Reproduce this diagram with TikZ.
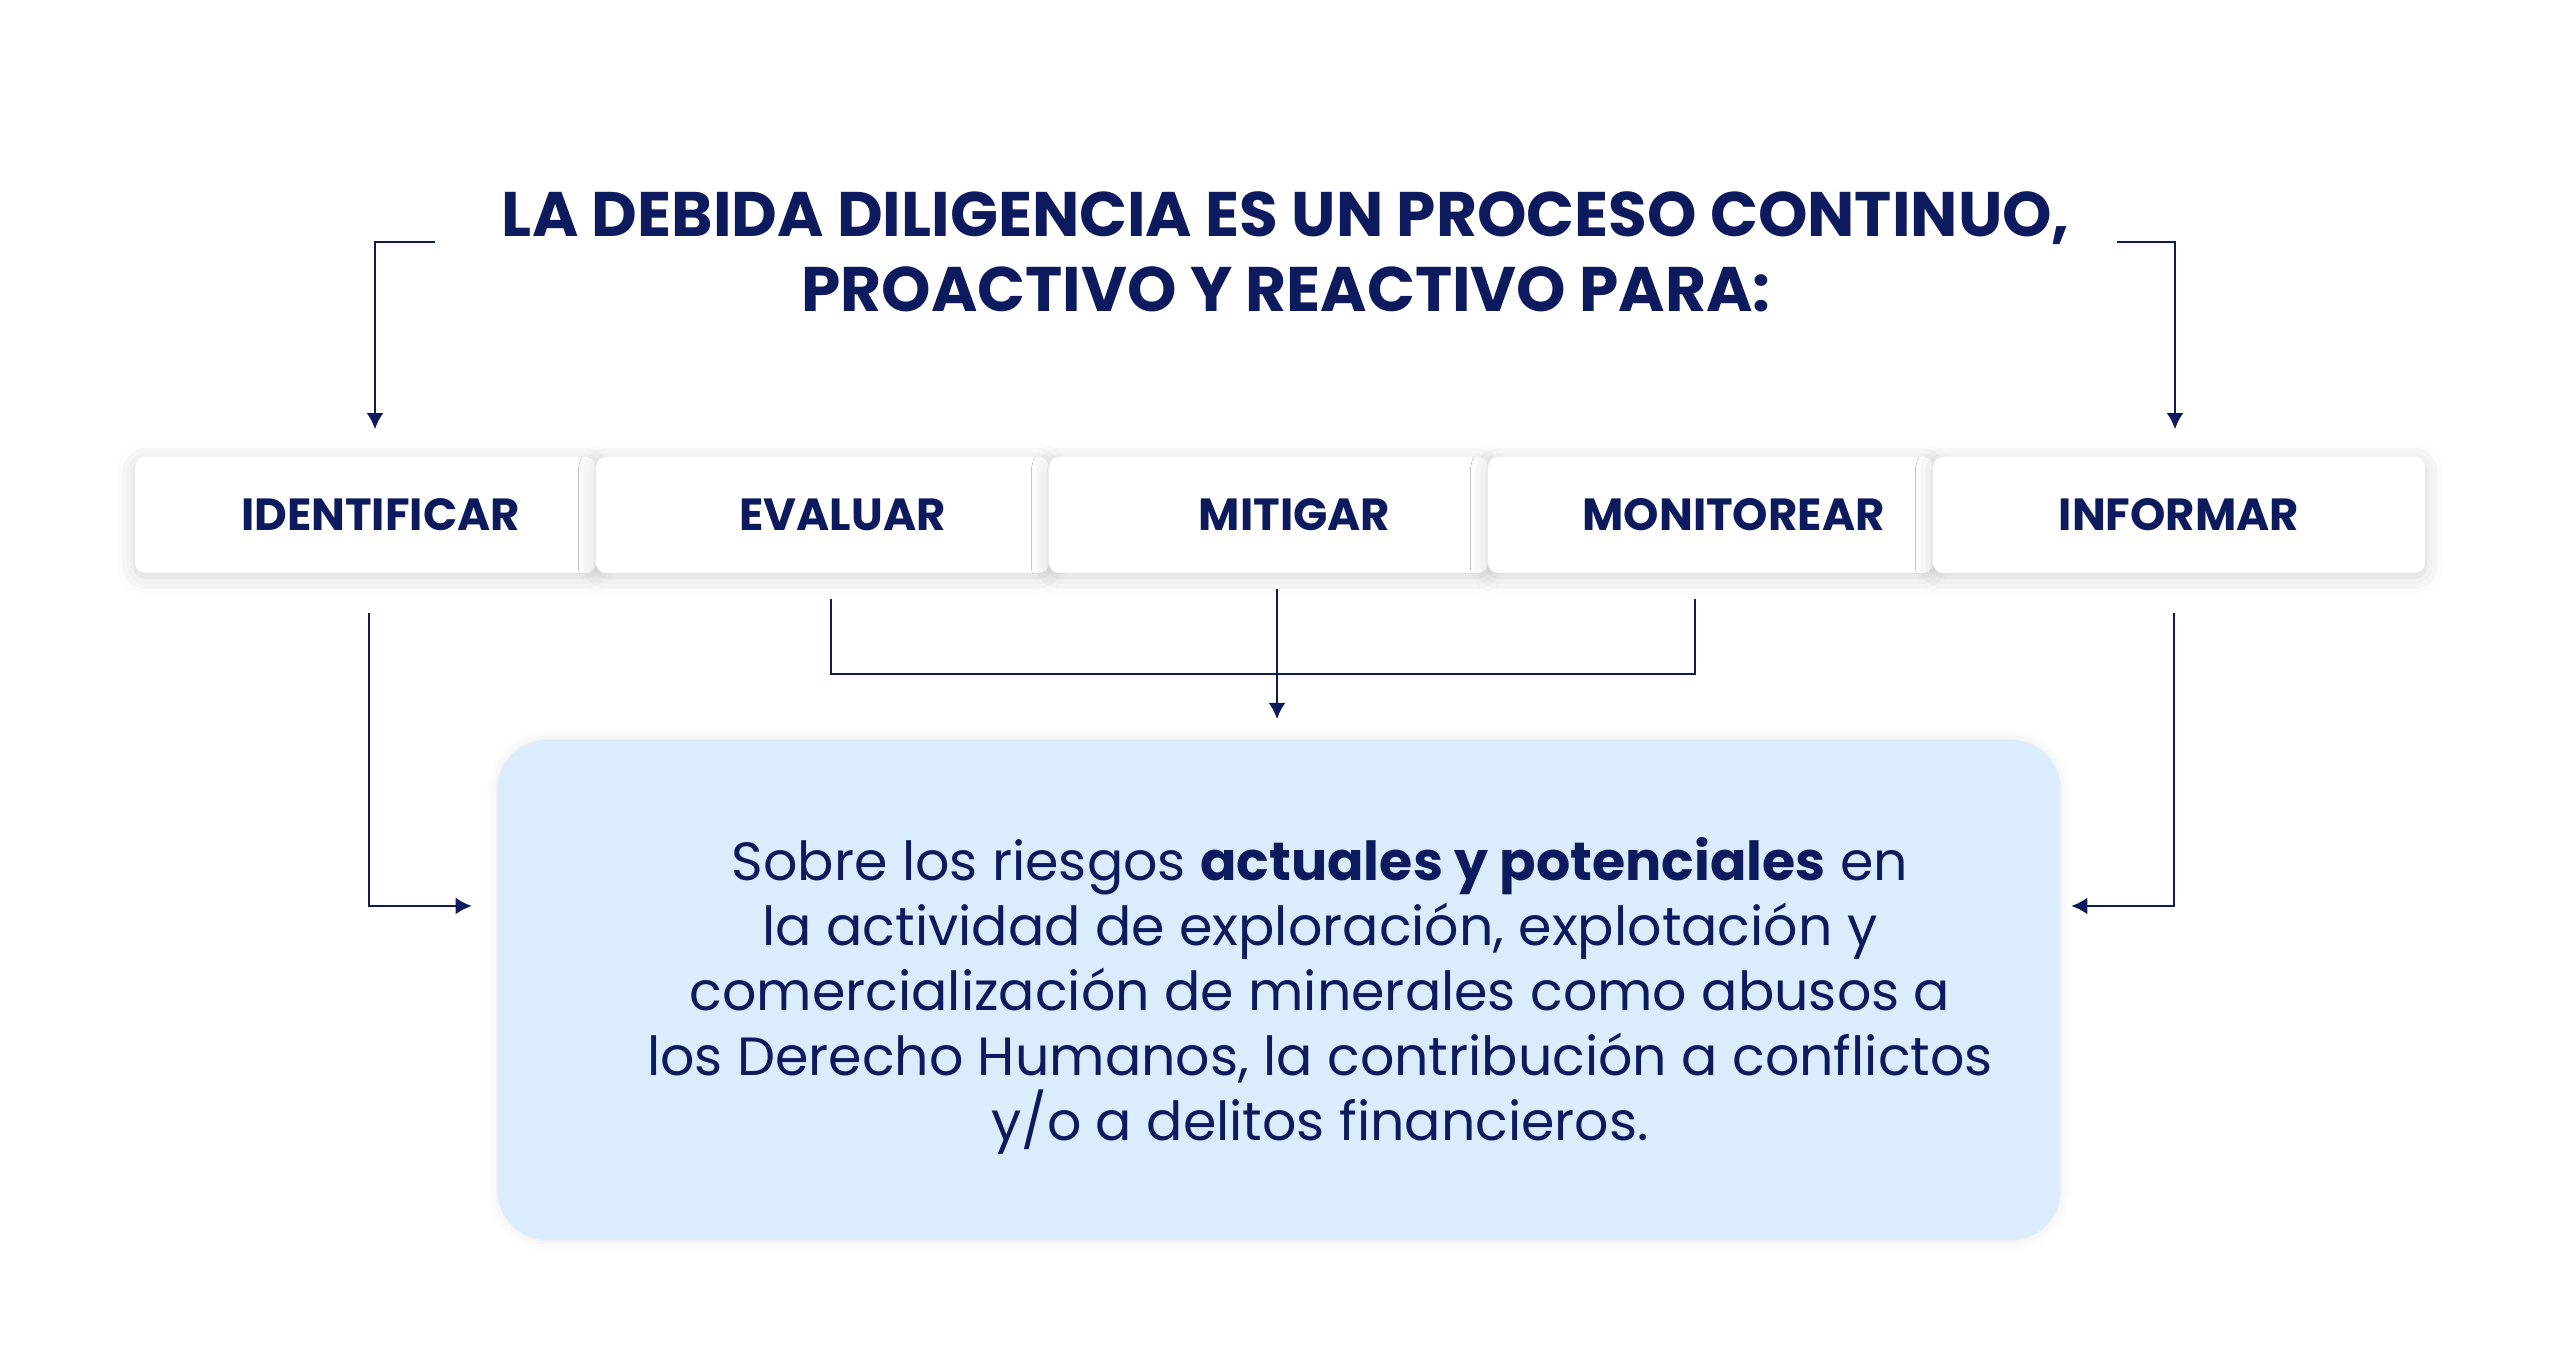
\documentclass[tikz,border=0pt]{standalone}
\usepackage{fontspec}
\setmainfont{Poppins}
\usepackage{tikz}
\usetikzlibrary{positioning,arrows.meta,shadows.blur}

\definecolor{navy}{HTML}{0D1B5E}
\definecolor{paleblue}{HTML}{DBEDFD}

\begin{document}
\begin{tikzpicture}[%
    x=0.01cm, y=-0.01cm,
    title/.style={%
        align=center,
        text=navy,
        font=\fontsize{17.9}{21.3}\selectfont\bfseries
    },
    stepbox/.style={%
        fill=white,
        rounded corners=3pt,
        minimum height=1.16cm,
        inner sep=0pt,
        text=navy,
        font=\fontsize{12.8}{15}\selectfont\bfseries,
        blur shadow={shadow xshift=0pt, shadow yshift=-1pt, shadow blur radius=5pt, shadow opacity=18}
    },
    riskbox/.style={%
        fill=paleblue,
        rounded corners=0.5cm,
        minimum width=15.62cm,
        minimum height=5.0cm,
        blur shadow={shadow xshift=0pt, shadow yshift=0pt, shadow blur radius=3pt, shadow opacity=10}
    },
    risktext/.style={%
        align=center,
        text=navy,
        font=\fontsize{15.3}{18.5}\selectfont
    },
    line/.style={%
        draw=navy,
        line width=0.7pt
    },
    conn/.style={%
        line,
        ->
    },
    >={Latex[length=4.6pt,width=4.8pt]}
]
\useasboundingbox (0,0) rectangle (2560,1344);

% Title
    \node[title] (title) at (1286,252) {LA DEBIDA DILIGENCIA ES UN PROCESO CONTINUO,\\PROACTIVO Y REACTIVO PARA:};
    \coordinate (titleL) at (435,242);
    \coordinate (titleR) at (2117,242);

% Steps
    \node[stepbox, minimum width=4.61cm] (ident) at (365.5,515) {\hspace*{0.3cm}IDENTIFICAR};
    \node[stepbox, minimum width=4.53cm] (evalu) at (822.5,515) {\hspace*{0.4cm}EVALUAR};
    \node[stepbox, minimum width=4.39cm] (mitig) at (1268.5,515) {\hspace*{0.52cm}MITIGAR};
    \node[stepbox, minimum width=4.45cm] (monit) at (1710.5,515) {\hspace*{0.46cm}MONITOREAR};
    \node[stepbox, minimum width=4.92cm] (inform) at (2179,515) {INFORMAR};

% Risks
    \node[riskbox] (risk) at (1279,990) {};
    \node[risktext] (risktxt) at (1320,996) {Sobre los riesgos \textbf{actuales y potenciales} en\\la actividad de exploración, explotación y\\comercialización de minerales como abusos a\\los Derecho Humanos, la contribución a conflictos\\y/o a delitos financieros.};
    \coordinate (merge) at (1277,674);

% Arrows
\draw[conn, shorten >=0.27cm] (titleL) -| ([xshift=0.095cm]ident.north);
\draw[conn, shorten >=0.27cm] (titleR) -| ([xshift=-0.04cm]inform.north);

\draw[conn, shorten <=0.39cm, shorten >=0.25cm] ([xshift=0.035cm]ident.south) |- ([yshift=0.84cm]risk.west);
\draw[conn, shorten <=0.39cm, shorten >=0.1cm] ([xshift=-0.05cm]inform.south) |- ([yshift=0.84cm]risk.east);

\draw[line, shorten <=0.25cm] ([xshift=0.085cm]evalu.south) |- (merge);
\draw[line, shorten <=0.25cm] ([xshift=-0.155cm]monit.south) |- (merge);
\draw[conn, shorten <=0.15cm, shorten >=0.2cm] (mitig.south -| merge) -- (merge |- risk.north);

\end{tikzpicture}
\end{document}
